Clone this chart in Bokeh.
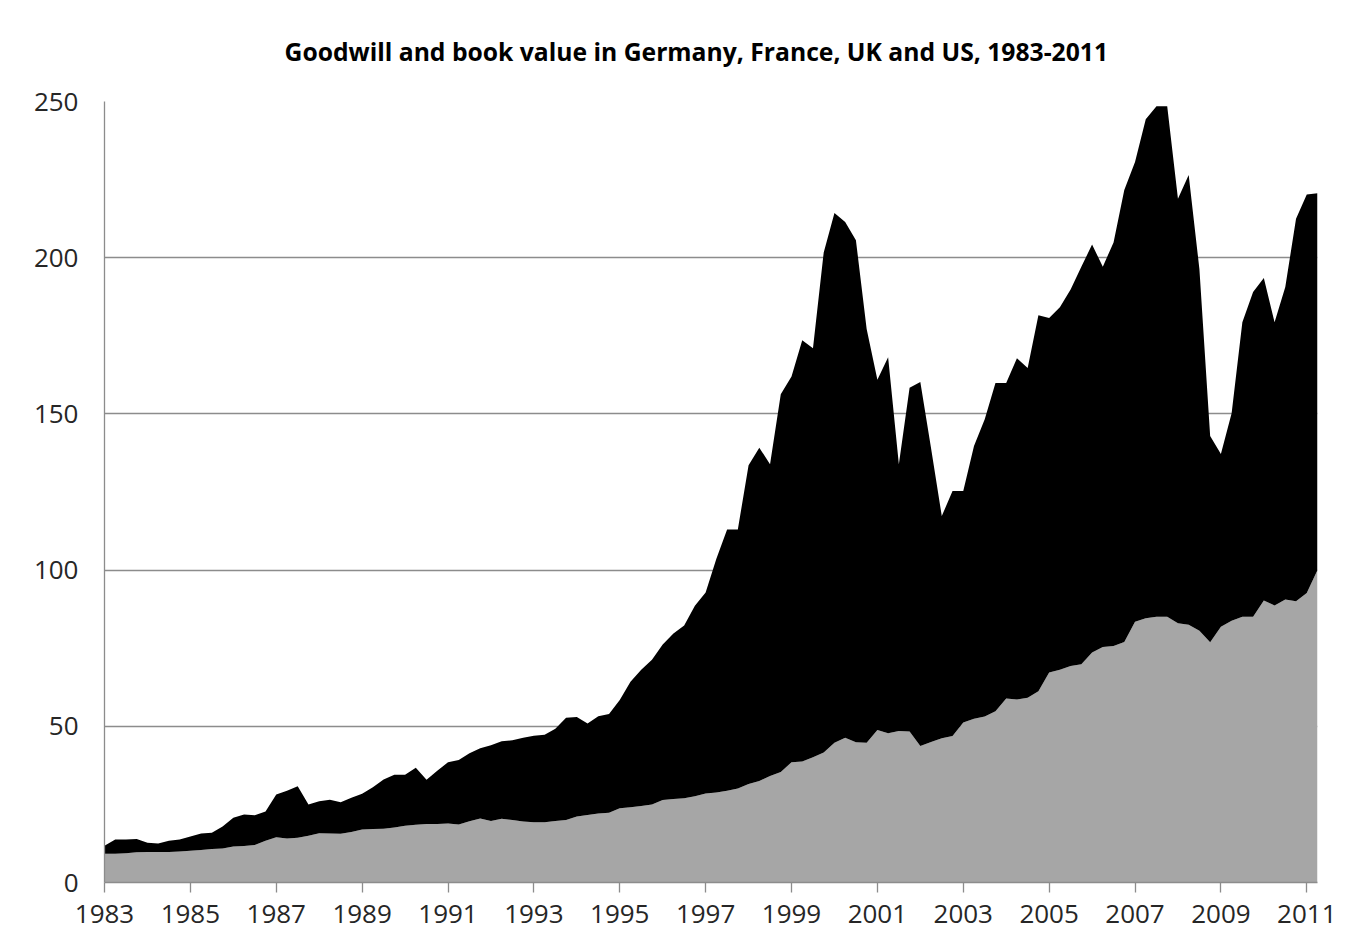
from bokeh.plotting import figure
from bokeh.models import ColumnDataSource, Range1d, FixedTicker, Title
from bokeh.embed import file_html
from bokeh.resources import INLINE

title_text = "Goodwill and book value in Germany, France, UK and US, 1983-2011"
start_year = 1983
year_ticks = list(range(1983, 2012, 2))
value_ticks = [0, 50, 100, 150, 200, 250]

# quarterly values, 1983 Q1 .. 2011 Q2
book_value = [
    9.2, 9.2, 9.4, 9.7, 9.8, 9.8, 9.8, 9.9, 10.2, 10.4,
    10.7, 10.9, 11.5, 11.7, 12.0, 13.4, 14.5, 14.1, 14.3, 15.0,
    15.8, 15.7, 15.6, 16.2, 17.0, 17.1, 17.2, 17.6, 18.2, 18.5,
    18.7, 18.7, 18.9, 18.6, 19.6, 20.5, 19.7, 20.4, 20.0, 19.5,
    19.3, 19.3, 19.7, 20.0, 21.1, 21.6, 22.1, 22.3, 23.8, 24.1,
    24.5, 25.0, 26.4, 26.7, 27.0, 27.6, 28.5, 28.8, 29.4, 30.1,
    31.5, 32.5, 34.1, 35.4, 38.5, 38.7, 40.1, 41.6, 44.7, 46.3,
    44.9, 44.7, 48.8, 47.8, 48.5, 48.3, 43.7, 45.0, 46.2, 46.9,
    51.2, 52.4, 53.1, 54.8, 58.9, 58.6, 59.1, 61.2, 67.2, 68.1,
    69.3, 69.9, 73.6, 75.4, 75.7, 77.0, 83.5, 84.6, 85.1, 85.1,
    83.0, 82.5, 80.6, 76.9, 81.9, 83.8, 85.1, 85.1, 90.3, 88.7,
    90.6, 90.0, 92.7, 100.0,
]

goodwill = [
    2.6, 4.6, 4.4, 4.2, 2.9, 2.7, 3.6, 3.9, 4.5, 5.3,
    5.2, 7.0, 9.2, 10.1, 9.5, 9.3, 13.7, 15.3, 16.5, 10.0,
    10.2, 10.8, 10.1, 10.9, 11.4, 13.4, 15.8, 16.9, 16.3, 18.2,
    14.2, 17.1, 19.6, 20.6, 21.8, 22.5, 24.2, 24.8, 25.5, 26.8,
    27.7, 28.0, 29.5, 32.7, 31.9, 29.3, 31.1, 31.6, 34.6, 40.2,
    43.6, 46.3, 49.8, 53.0, 55.3, 61.0, 64.3, 74.8, 83.6, 82.9,
    102.1, 106.7, 99.8, 120.9, 123.5, 134.9, 130.9, 160.1, 169.6, 165.1,
    160.7, 132.5, 112.1, 120.3, 85.4, 110.1, 116.5, 94.0, 71.1, 78.4,
    74.1, 87.3, 95.2, 105.1, 101.0, 109.2, 105.6, 120.4, 113.5, 116.0,
    120.5, 127.2, 130.6, 121.7, 129.2, 144.7, 147.1, 159.7, 163.4, 163.4,
    135.9, 144.0, 115.7, 66.0, 55.3, 66.4, 94.2, 103.9, 103.2, 90.6,
    100.0, 122.5, 127.5, 120.6,
]

quarters = [start_year + q / 4 for q in range(len(book_value))]

source = ColumnDataSource(dict(x=quarters, book_value=book_value, goodwill=goodwill))

FONT = "Open Sans"
GRID = "#8c8c8c"

p = figure(
    width=1354, height=932,
    output_backend="svg", toolbar_location=None,
    x_range=Range1d(start_year, quarters[-1]),
    y_range=Range1d(0, 250),
    min_border_left=104, min_border_right=37,
    min_border_top=101, min_border_bottom=50,
    background_fill_color="white", border_fill_color="white",
    outline_line_color=None,
)

p.title = Title(text=title_text, align="left", offset=180,
                vertical_align="top", standoff=64,
                text_font=FONT, text_font_size="24.7px", text_font_style="bold",
                text_color="#000000")

p.varea_stack(["book_value", "goodwill"], x="x", color=["#a6a6a6", "#000000"],
              source=source)

p.xgrid.grid_line_color = None
p.ygrid.grid_line_color = GRID
p.ygrid.grid_line_width = 1.3
p.ygrid.ticker = FixedTicker(ticks=value_ticks)

p.xaxis.ticker = FixedTicker(ticks=year_ticks)
p.yaxis.ticker = FixedTicker(ticks=value_ticks)

for ax in (p.xaxis[0], p.yaxis[0]):
    ax.axis_line_color = GRID
    ax.axis_line_width = 1.3
    ax.major_tick_line_color = GRID
    ax.major_tick_line_width = 1.3
    ax.minor_tick_line_color = None
    ax.major_label_text_font = FONT
    ax.major_label_text_font_size = "26px"
    ax.major_label_text_color = "#262626"

p.xaxis.major_tick_in = 0
p.xaxis.major_tick_out = 10
p.xaxis.major_label_standoff = 12
p.yaxis.major_tick_in = 0
p.yaxis.major_tick_out = 0
p.yaxis.major_label_standoff = 26

open("out.html", "w").write(file_html(p, INLINE))
